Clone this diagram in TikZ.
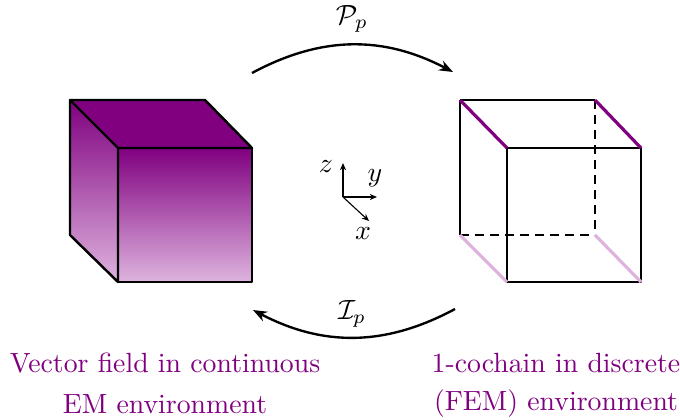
\documentclass[tikz,border=0pt]{standalone}
\usetikzlibrary{arrows.meta}
\definecolor{cubepurple}{RGB}{128,0,128}
\definecolor{cubelight}{RGB}{222,180,222}
\tikzset{
  edge/.style={draw=black,line width=0.88pt,line join=round},
  hidden/.style={black,line width=0.88pt,dash pattern=on 3.2pt off 2.2pt},
  dark/.style={cubepurple,line width=1.15pt},
  pale/.style={cubelight,line width=1.15pt},
  maparrow/.style={black,line width=0.85pt,-{Stealth[length=5pt,width=3.8pt]}},
  axis/.style={black,line width=0.4pt,-{Stealth[length=2.6pt,width=2.2pt]}},
  caption/.style={text=cubepurple,inner sep=0pt,anchor=center},
  lab/.style={inner sep=0pt,anchor=center}
}
\begin{document}
\begin{tikzpicture}[x=0.36pt,y=-0.36pt]
\useasboundingbox (0,0) rectangle (680,419);
% left cube corners
\coordinate (lA) at (70,100);
\coordinate (lB) at (205,100);
\coordinate (lC) at (252,148);
\coordinate (lD) at (118,148);
\coordinate (lE) at (70,235);
\coordinate (lF) at (118,282);
\coordinate (lG) at (252,282);
% faces
\fill[cubepurple] (lA) -- (lB) -- (lC) -- (lD) -- cycle;
\begin{scope}
  \clip (lA) -- (lD) -- (lF) -- (lE) -- cycle;
  \shade[top color=cubepurple,bottom color=cubelight] (70,100) rectangle (118,282);
\end{scope}
\shade[top color=cubepurple,bottom color=cubelight] (lD) rectangle (lG);
\draw[edge] (lA) -- (lB) -- (lC) -- (lD) -- cycle;
\draw[edge] (lA) -- (lE) -- (lF) -- (lD);
\draw[edge] (lD) -- (lC) -- (lG) -- (lF) -- cycle;
% right cube corners
\coordinate (rA) at (460,100);
\coordinate (rB) at (595,100);
\coordinate (rC) at (641,148);
\coordinate (rD) at (507,148);
\coordinate (rE) at (460,235);
\coordinate (rH) at (595,235);
\coordinate (rF) at (507,282);
\coordinate (rG) at (641,282);
\draw[hidden] (rB) -- (rH);
\draw[hidden] (rE) -- (rH);
\draw[edge] (rA) -- (rB);
\draw[edge] (rA) -- (rE);
\draw[edge] (rD) -- (rC) -- (rG) -- (rF) -- cycle;
\draw[dark] (rA) -- (rD);
\draw[dark] (rB) -- (rC);
\draw[pale] (rE) -- (rF);
\draw[pale] (rH) -- (rG);
% axes
\coordinate (o) at (343,197);
\coordinate (ez) at (343,163);
\coordinate (ey) at (377,197);
\coordinate (ex) at (369,221);
\draw[axis] (o) -- (ez);
\draw[axis] (o) -- (ey);
\draw[axis] (o) -- (ex);
\node[lab] (zl) at (326,167) {$z$};
\node[lab] (yl) at (375,178) {$y$};
\node[lab] (xl) at (363,234) {$x$};
% maps
\coordinate (p1) at (252,73);
\coordinate (p2) at (453,72);
\coordinate (i1) at (455,309);
\coordinate (i2) at (253,310);
\draw[maparrow] (p1) to[bend left=28] (p2);
\draw[maparrow] (i1) to[bend left=28] (i2);
\node[lab] (pl) at (352,19) {$\mathcal{P}_p$};
\node[lab] (il) at (352,314) {$\mathcal{I}_p$};
% captions
\node[caption] (c1) at (165,363) {Vector field in continuous};
\node[caption] (c2) at (165,404) {EM environment};
\node[caption] (c3) at (556,363) {1-cochain in discrete};
\node[caption] (c4) at (556,404) {(FEM) environment};
\end{tikzpicture}
\end{document}
